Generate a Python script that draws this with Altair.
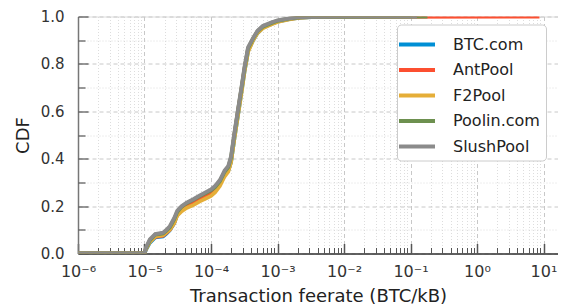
import altair as alt
import pandas as pd

pools = ["BTC.com", "AntPool", "F2Pool", "Poolin.com", "SlushPool"]
colors = ["#008fd5", "#fc4f30", "#e5ae38", "#6d904f", "#8b8b8b"]

feerate = [1e-6, 1.0e-5, 1.05e-5, 1.2e-5, 1.45e-5, 1.9e-5, 2.1e-5, 2.4e-5, 2.8e-5, 3.1e-5,
           3.6e-5, 4.3e-5, 5.5e-5, 6.8e-5, 8.5e-5, 1.0e-4, 1.15e-4, 1.36e-4, 1.6e-4, 1.82e-4,
           2.0e-4, 2.25e-4, 2.55e-4, 2.9e-4, 3.2e-4, 3.45e-4, 3.6e-4, 4.3e-4, 5.0e-4, 6.0e-4,
           8.0e-4, 1.0e-3, 1.5e-3, 2.2e-3, 4.0e-3, 1.0e-2]

cdf_btc = [0, 0, 0.015, 0.045, 0.068, 0.072, 0.082, 0.098, 0.128, 0.163, 0.183, 0.198, 0.212,
           0.228, 0.243, 0.253, 0.268, 0.292, 0.33, 0.35, 0.385, 0.485, 0.585, 0.69, 0.77, 0.82,
           0.855, 0.9, 0.93, 0.952, 0.968, 0.978, 0.989, 0.995, 0.998, 0.999]
cdf_ant = [0, 0, 0.02, 0.05, 0.07, 0.075, 0.085, 0.1, 0.13, 0.165, 0.185, 0.2, 0.213, 0.228,
           0.243, 0.253, 0.268, 0.295, 0.335, 0.355, 0.395, 0.5, 0.6, 0.7, 0.78, 0.83, 0.86,
           0.905, 0.935, 0.955, 0.97, 0.98, 0.99, 0.996, 0.998, 0.999]
cdf_f2 = [0, 0, 0.018, 0.048, 0.072, 0.077, 0.087, 0.1, 0.128, 0.16, 0.178, 0.192, 0.205, 0.22,
          0.233, 0.243, 0.258, 0.285, 0.325, 0.345, 0.385, 0.485, 0.585, 0.685, 0.77, 0.82, 0.85,
          0.9, 0.93, 0.95, 0.966, 0.977, 0.988, 0.995, 0.998, 0.999]
cdf_poolin = [0, 0, 0.022, 0.055, 0.08, 0.085, 0.095, 0.11, 0.145, 0.175, 0.197, 0.212, 0.227,
              0.242, 0.256, 0.266, 0.28, 0.305, 0.345, 0.365, 0.405, 0.505, 0.605, 0.705, 0.785,
              0.835, 0.865, 0.908, 0.938, 0.957, 0.972, 0.982, 0.991, 0.996, 0.998, 0.999]
cdf_slush = [0, 0, 0.025, 0.06, 0.082, 0.088, 0.098, 0.115, 0.15, 0.18, 0.2, 0.215, 0.23, 0.245,
             0.26, 0.27, 0.285, 0.31, 0.35, 0.37, 0.41, 0.51, 0.61, 0.71, 0.79, 0.84, 0.87, 0.91,
             0.94, 0.96, 0.975, 0.984, 0.992, 0.997, 0.999, 0.9995]

max_feerate = [0.1, 8.7, 0.11, 0.18, 0.125]

decades = [1e-6, 1e-5, 1e-4, 1e-3, 1e-2, 1e-1, 1e0, 1e1]
decade_labels = ["10⁻⁶", "10⁻⁵", "10⁻⁴", "10⁻³", "10⁻²", "10⁻¹", "10⁰", "10¹"]
minor_mult = [2, 3, 4, 5, 6, 7, 8, 9]
y_ticks = [0.0, 0.1, 0.2, 0.3, 0.4, 0.5, 0.6, 0.7, 0.8, 0.9, 1.0]

series = [cdf_btc, cdf_ant, cdf_f2, cdf_poolin, cdf_slush]
rows = []
for p, cdf, mx in zip(pools, series, max_feerate):
    for xv, yv in zip(feerate, cdf):
        rows.append({"pool": p, "x": xv, "cdf": yv})
    rows.append({"pool": p, "x": mx, "cdf": 1.0})
df = pd.DataFrame(rows)

x_vals = []
for d in decades:
    x_vals.append(d)
    if d < 10:
        for m in minor_mult:
            x_vals.append(round(m * d, 12))

W, H = 480, 237
xmax = 10 ** (1 + 14.5 / 66.5)
xscale = alt.Scale(type="log", domain=[1e-6, xmax], nice=False)
yscale = alt.Scale(domain=[0, 1], nice=False, zero=False)

is_dec = "abs(log(datum.value)/LN10 - round(log(datum.value)/LN10)) < 0.001"
is_ymaj = "abs(datum.value*5 - round(datum.value*5)) < 0.001"
lab_arr = "[" + ",".join("'%s'" % s for s in decade_labels) + "]"
x_label_expr = f"{is_dec} ? {lab_arr}[round(log(datum.value)/LN10)+6] : ''"

font = "DejaVu Sans"

main_x = alt.Axis(
    values=x_vals, labelExpr=x_label_expr, ticks=False, tickSize=0, labelPadding=10,
    labelFontSize=16, labelColor="#333", labelFont=font, labelFlush=False,
    labelBaseline="top", labelOverlap=False,
    grid=True,
    gridDash={"condition": {"test": is_dec, "value": [4, 3]}, "value": [1, 2]},
    gridColor={"condition": {"test": is_dec, "value": "#c8c8c8"}, "value": "#d4d4d4"},
    gridWidth={"condition": {"test": is_dec, "value": 1}, "value": 0.8},
    domainColor="#333", domainWidth=1.3,
    title="Transaction feerate (BTC/kB)", titleFontSize=18, titleFont=font,
    titleFontWeight="normal", titleColor="#222", titlePadding=8,
)
main_y = alt.Axis(
    values=y_ticks,
    labelExpr=f"{is_ymaj} ? format(datum.value, '.1f') : ''",
    ticks=False, tickSize=0, labelPadding=14, labelFontSize=15, labelColor="#333",
    labelFont=font, labelFlush=False, labelOverlap=False,
    grid=True,
    gridDash={"condition": {"test": is_ymaj, "value": [4, 3]}, "value": [1, 2]},
    gridColor={"condition": {"test": is_ymaj, "value": "#c8c8c8"}, "value": "#d4d4d4"},
    gridWidth={"condition": {"test": is_ymaj, "value": 1}, "value": 0.8},
    domainColor="#777", domainWidth=1.5,
    title="CDF", titleFontSize=18, titleFont=font, titleFontWeight="normal",
    titleColor="#222", titlePadding=8,
)

tick_x = alt.Axis(
    orient="top", offset=-H, values=x_vals, labels=False, domain=False, grid=False,
    ticks=True, tickColor="#555",
    tickSize={"condition": {"test": is_dec, "value": 10}, "value": 6},
    tickWidth={"condition": {"test": is_dec, "value": 1.5}, "value": 1},
    title=None,
)
tick_y = alt.Axis(
    orient="right", offset=-W, values=y_ticks, labels=False, domain=False, grid=False,
    ticks=True, tickColor="#555",
    tickSize={"condition": {"test": is_ymaj, "value": 10}, "value": 7},
    tickWidth=1.2,
    title=None,
)

legend = alt.Legend(
    title=None, orient="none", legendX=319, legendY=8,
    symbolType="M-1.5,0H1.5", symbolSize=576, symbolStrokeWidth=4,
    labelFontSize=16, labelFont=font, labelColor="#222", labelOffset=22,
    fillColor="white", strokeColor="#cccccc", cornerRadius=4, padding=6,
    rowPadding=3.5,
)

base = alt.Chart(df)
lines = base.mark_line(strokeWidth=3.8, clip=True).encode(
    x=alt.X("x:Q", scale=xscale, axis=main_x),
    y=alt.Y("cdf:Q", scale=yscale, axis=main_y),
    color=alt.Color("pool:N", scale=alt.Scale(domain=pools, range=colors), legend=legend),
    detail="pool:N",
)
ticks = base.mark_line(opacity=0).encode(
    x=alt.X("x:Q", scale=xscale, axis=tick_x),
    y=alt.Y("cdf:Q", scale=yscale, axis=tick_y),
    detail="pool:N",
)

chart = alt.layer(lines, ticks).resolve_axis(x="independent", y="independent").properties(
    width=W, height=H,
    autosize=alt.AutoSizeParams(type="none"),
    padding={"left": 70, "top": 8.5, "right": 0, "bottom": 52},
).configure_view(stroke=None).configure(background="white")

chart.save("out.html", embed_options={"renderer": "svg", "actions": False})
